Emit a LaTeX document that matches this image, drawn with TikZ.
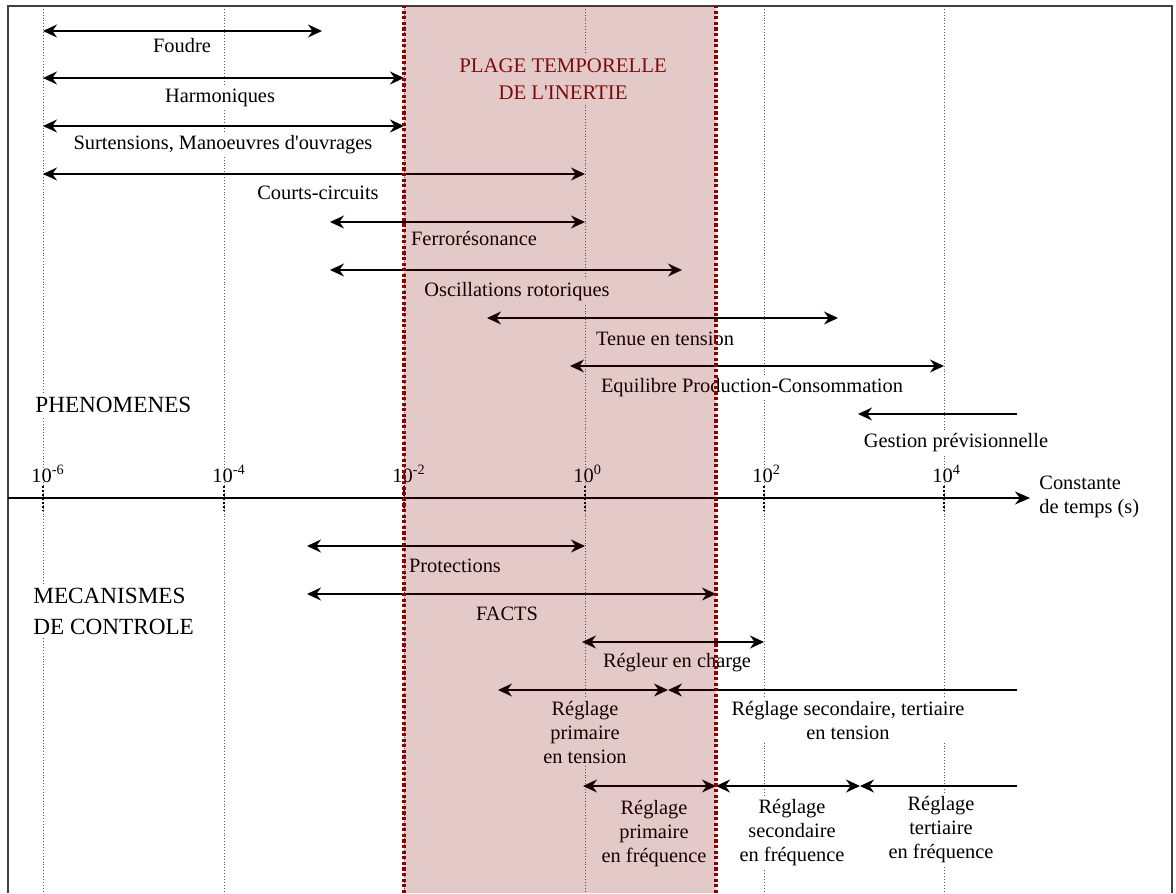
\documentclass[tikz,border=0pt]{standalone}
\usepackage{fontspec}
\setmainfont{Liberation Serif}
\usetikzlibrary{arrows.meta}
\definecolor{shade_red}{RGB}{128,0,0}
\definecolor{border_red}{RGB}{140,0,0}
\definecolor{title_fill}{RGB}{228,201,201}
\definecolor{title_red}{RGB}{125,10,10}
\begin{document}
\begin{tikzpicture}[x=0.5pt, y=-0.5pt,
                    frame_line/.style={line width=0.9pt, black!75},
                    grid_line/.style={densely dotted, line width=0.45pt, black!65},
                    tick_mark/.style={densely dotted, line width=1pt, black},
                    tick_label/.style={anchor=base west, inner sep=0pt, font=\fontsize{10.2}{12}\selectfont},
                    axis_arrow/.style={-{Stealth[length=7.5pt, width=6.5pt]}, line width=0.7pt},
                    span_arrow/.style={{Stealth[length=7pt, width=6.5pt]}-{Stealth[length=7pt, width=6.5pt]}, line width=0.7pt},
                    left_arrow/.style={-{Stealth[length=7pt, width=6.5pt]}, line width=0.7pt},
                    span_label/.style={fill=white, inner sep=1.5pt, anchor=base, align=center, font=\fontsize{10.2}{12}\selectfont},
                    group_label/.style={fill=white, inner sep=2pt, anchor=base west, align=left, font=\fontsize{11.6}{15.5}\selectfont},
                    inertia_border/.style={border_red, line width=1.6pt, dash pattern=on 1.6pt off 1.2pt},
                    title_label/.style={fill=title_fill, text=title_red, inner sep=2pt, align=center, font=\fontsize{10.4}{13.5}\selectfont}
                ]
                    \useasboundingbox (0,0) rectangle (1176,893);
                    \draw[frame_line] (8,893) -- (8,6) -- (1172,6) -- (1172,893);
                    \foreach \xt/\ex in {43/-6, 224/-4, 404/-2, 585/0, 764/2, 944/4} {
                        \draw[grid_line] (\xt,6) -- (\xt,893);
                        \draw[tick_mark] (\xt,486) -- (\xt,511);
                        \node[tick_label] (tick\ex) at (\xt-12,482) {10\textsuperscript{\ex}};
                    }
                    \coordinate (axis-start) at (8,498);
                    \coordinate (axis-end) at (1030,498);
                    \draw[axis_arrow] (axis-start) -- (axis-end);
                    \node[anchor=west, align=left, inner sep=0pt, font=\fontsize{10.2}{12}\selectfont] (axis-name) at (1039,497) {Constante\\de temps (s)};
                    \node[group_label] (phen) at (31,412) {PHENOMENES};
                    \node[group_label] (meca) at (29,634) {MECANISMES\\DE CONTROLE};
                    \foreach \nm/\xa/\xb/\ya/\xl/\yl/\txt in {foudre/43/322/31/182/53/Foudre,
                        harmo/43/404/78/220/103/Harmoniques,
                        surt/43/404/126/223/150/{Surtensions, Manoeuvres d\textquotesingle ouvrages},
                        courts/43/585/174/318/199/Courts-circuits,
                        ferro/330/585/222/474/245/Ferrorésonance,
                        oscil/330/682/270/517/296/Oscillations rotoriques,
                        tenue/487/838/318/665/345/Tenue en tension,
                        equil/570/944/366/752/392/Equilibre Production-Consommation,
                        prot/307/585/546/455/572/Protections,
                        facts/307/716/594/507/620/FACTS,
                        regleur/582/764/642/677/667/Régleur en charge,
                        primtens/498/668/690/585/763/{Réglage\\primaire\\en tension},
                        primfreq/583/716/786/654/862/{Réglage\\primaire\\en fréquence},
                        secfreq/716/860/786/792/861/{Réglage\\secondaire\\en fréquence}} {
                        \coordinate (\nm-a) at (\xa,\ya);
                        \coordinate (\nm-b) at (\xb,\ya);
                        \node[span_label] (\nm-lbl) at (\xl,\yl) {\txt};
                        \draw[span_arrow] (\nm-a) -- (\nm-b);
                    }
                    \foreach \nm/\xb/\ya/\xl/\yl/\txt in {gestion/858/414/956/447/Gestion prévisionnelle,
                        sectens/668/690/848/739/{Réglage secondaire, tertiaire\\en tension},
                        tertfreq/860/786/941/858/{Réglage\\tertiaire\\en fréquence}} {
                        \coordinate (\nm-a) at (1017,\ya);
                        \coordinate (\nm-b) at (\xb,\ya);
                        \node[span_label] (\nm-lbl) at (\xl,\yl) {\txt};
                        \draw[left_arrow] (\nm-a) -- (\nm-b);
                    }
                    \fill[shade_red, opacity=0.21] (404,6) rectangle (716,893);
                    \draw[inertia_border] (404,893) -- (404,6);
                    \draw[inertia_border] (716,893) -- (716,6);
                    \node[title_label] (inertia-title) at (563,79) {PLAGE TEMPORELLE\\DE L\textquotesingle INERTIE};
                \end{tikzpicture}
\end{document}
